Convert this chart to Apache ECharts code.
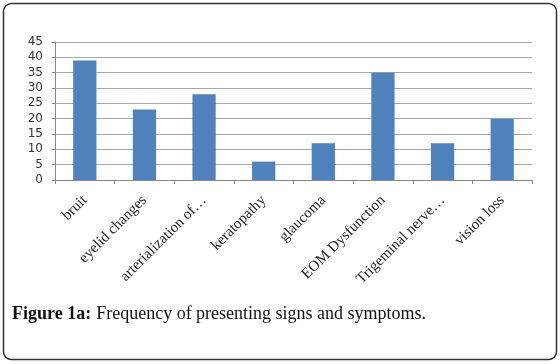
<!DOCTYPE html>
<html>
<head>
<meta charset="utf-8">
<script src="https://cdn.jsdelivr.net/npm/echarts@6/dist/echarts.min.js"></script>
<style>
  html, body { margin: 0; padding: 0; background: #fff; }
  #chart { width: 560px; height: 364px; }
</style>
</head>
<body>
<div id="chart"></div>
<script>
// 类目与数值
const categories = ["bruit", "eyelid changes", "arterialization of\u2026", "keratopathy",
  "glaucoma", "EOM Dysfunction", "Trigeminal nerve\u2026", "vision loss"];
const counts = [39, 23, 28, 6, 12, 35, 12, 20];
const yTicks = [0, 5, 10, 15, 20, 25, 30, 35, 40, 45];

const chart = echarts.init(document.getElementById("chart"));
const option = {
  animation: false,
  title: {
    text: "{b|Figure 1a:} {n|Frequency of presenting signs and symptoms.}",
    left: 12,
    top: 305,
    padding: 0,
    textStyle: {
      fontWeight: "normal",
      rich: {
        b: { fontFamily: "Liberation Serif", fontSize: 18, fontWeight: "bold", color: "#111" },
        n: { fontFamily: "Liberation Serif", fontSize: 18, fontWeight: "normal", color: "#111" }
      }
    }
  },
  graphic: [{
    type: "rect",
    shape: { x: 3.5, y: 3.5, width: 553, height: 356, r: 8 },
    style: { fill: "none", stroke: "#333", lineWidth: 1.5 },
    silent: true
  }],
  grid: { left: 55, right: 28, top: 42, bottom: 184 },
  xAxis: {
    type: "category",
    data: categories,
    axisLine: { lineStyle: { color: "#888" } },
    axisTick: { show: true, length: 4, lineStyle: { color: "#888" } },
    axisLabel: {
      rotate: 45,
      interval: 0,
      margin: 18,
      fontFamily: "Liberation Serif",
      fontSize: 15,
      color: "#222"
    }
  },
  yAxis: {
    type: "value",
    min: yTicks[0],
    max: yTicks[yTicks.length - 1],
    interval: 5,
    axisLine: { show: true, lineStyle: { color: "#888" } },
    axisTick: { show: true, length: 3, lineStyle: { color: "#888" } },
    splitLine: { lineStyle: { color: "#a6a6a6" } },
    axisLabel: {
      margin: 12,
      fontFamily: "DejaVu Sans",
      fontSize: 12,
      color: "#333"
    }
  },
  series: [{
    type: "bar",
    data: counts,
    barWidth: "39%",
    itemStyle: { color: "#4f81bd" }
  }]
};
chart.setOption(option);
</script>
</body>
</html>
